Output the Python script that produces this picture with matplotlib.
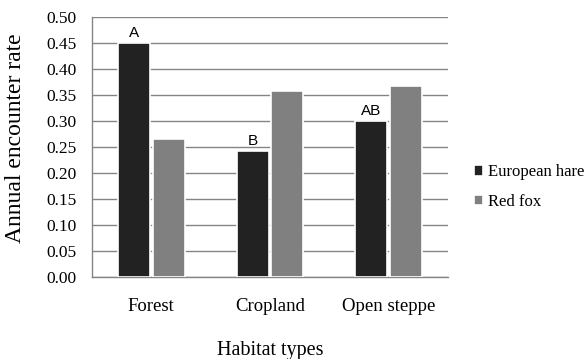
import matplotlib
matplotlib.use('Agg')
import matplotlib.pyplot as plt
import numpy as np

#=========================#
#  data                   #
#=========================#
habitats = ['Forest', 'Cropland', 'Open steppe']
hare = [0.450, 0.242, 0.300]
fox = [0.265, 0.358, 0.368]
letters = ['A', 'B', 'AB']
yticks = [0.00, 0.05, 0.10, 0.15, 0.20, 0.25, 0.30, 0.35, 0.40, 0.45, 0.50]

#=========================#
#  figure                 #
#=========================#
plt.rcParams['font.family'] = ['Liberation Serif', 'DejaVu Serif']

fig = plt.figure(figsize=(5.87, 3.59), dpi=100)
ax = fig.add_axes([0.1567, 0.2284, 0.6065, 0.7242])

x = np.arange(len(habitats))
w = 0.27
off = 0.145

ax.bar(x - off, hare, w, color='#222222', edgecolor='white', linewidth=1.2,
       label='European hare', zorder=3)
ax.bar(x + off, fox, w, color='#808080', edgecolor='white', linewidth=1.2,
       label='Red fox', zorder=3)

# significance letters above the hare bars
for xi, v, t in zip(x, hare, letters):
    ax.text(xi - off, v + 0.006, t, ha='center', va='bottom',
            fontsize=11, family='Liberation Sans')

ax.set_xlim(-0.5, len(habitats) - 0.5)
ax.set_ylim(0, 0.5)
ax.set_yticks(yticks)
ax.set_yticklabels(['%.2f' % t for t in yticks], fontsize=12.5)
ax.set_xticks(x)
ax.set_xticklabels(habitats, fontsize=13.5)
ax.tick_params(axis='both', length=0)
ax.tick_params(axis='y', pad=11)
ax.tick_params(axis='x', pad=15)

ax.yaxis.grid(True, color='#858585', linewidth=1.0, zorder=0)
ax.set_axisbelow(True)
for s in ['top', 'right']:
    ax.spines[s].set_visible(False)
for s in ['left', 'bottom']:
    ax.spines[s].set_color('#858585')
    ax.spines[s].set_linewidth(1.0)

ax.set_ylabel('Annual encounter rate', fontsize=17)
ax.yaxis.set_label_coords(-0.185, 0.535)
ax.set_xlabel('Habitat types', fontsize=14.5)
ax.xaxis.set_label_coords(0.5, -0.245)

ax.legend(loc='center left', bbox_to_anchor=(1.055, 0.346), frameon=False,
          fontsize=12, handlelength=0.55, handleheight=0.55, handletextpad=0.3,
          labelspacing=0.8, borderaxespad=0)

fig.savefig('out.png', dpi=100)
plt.close()
